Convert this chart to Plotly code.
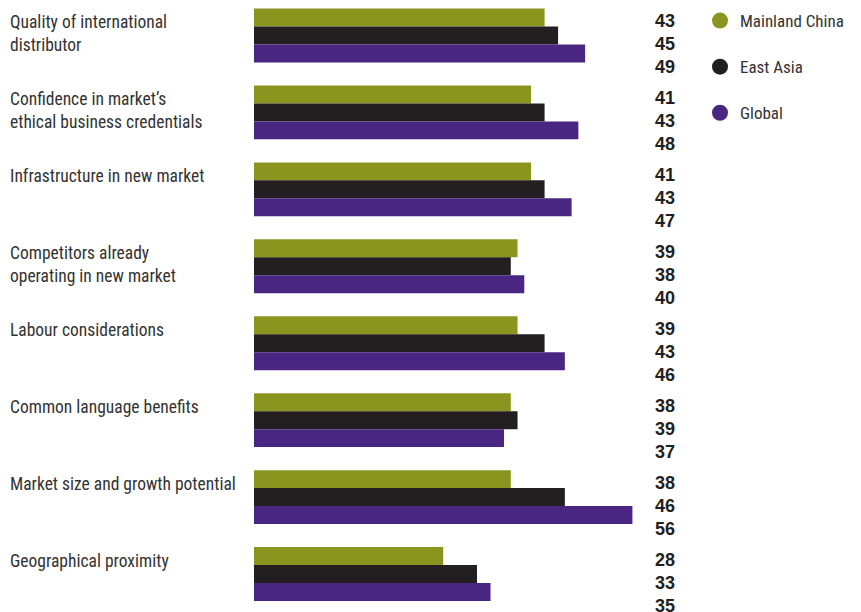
import plotly.graph_objects as go

categories = [
    "Quality of international<br>distributor",
    "Confidence in market’s<br>ethical business credentials",
    "Infrastructure in new market",
    "Competitors already<br>operating in new market",
    "Labour considerations",
    "Common language benefits",
    "Market size and growth potential",
    "Geographical proximity",
]
series_names = ["Mainland China", "East Asia", "Global"]
mainland_china = [43, 41, 41, 39, 39, 38, 38, 28]
east_asia = [45, 43, 43, 38, 43, 39, 46, 33]
global_vals = [49, 48, 47, 40, 46, 37, 56, 35]
series_values = [mainland_china, east_asia, global_vals]
colors = ["#8A951F", "#231F20", "#482682"]

W, H = 861, 612
ML, MR = 254, 161
PLOT_W = W - ML - MR
X_MAX = 66
TEXT = "#231F20"
LABEL_FONT = "Roboto Condensed, Liberation Sans Narrow, Arial Narrow, sans-serif"
NUM_FONT = "Liberation Sans, Arial, sans-serif"

ypos = list(range(len(categories)))

fig = go.Figure()
for name, vals, col in zip(series_names, series_values, colors):
    fig.add_trace(go.Bar(
        y=ypos, x=vals, orientation="h", name=name,
        marker=dict(color=col, line=dict(width=0)),
        showlegend=False, hoverinfo="x+name",
    ))

# circular legend markers
for i, (name, col) in enumerate(zip(series_names, colors)):
    fig.add_trace(go.Scatter(
        x=[None], y=[None], mode="markers", name=name,
        marker=dict(color=col, size=19, symbol="circle"),
        legendgroup=f"g{i}", showlegend=True,
    ))

annotations = []
# category labels, left-aligned at the left edge
for i, cat in enumerate(categories):
    annotations.append(dict(
        x=(8 - ML) / PLOT_W, xref="paper", y=i, yref="y",
        xanchor="left", yanchor="top", yshift=25, align="left",
        text=cat, showarrow=False,
        font=dict(family=LABEL_FONT, size=17.5, color="#333333"),
    ))
# value labels stacked to the right of each group
offsets = [-14.5, 9.0, 32.0]
for i in range(len(categories)):
    for k, vals in enumerate(series_values):
        annotations.append(dict(
            x=(677 - ML) / PLOT_W, xref="paper", y=i, yref="y",
            xanchor="right", yanchor="middle", yshift=-offsets[k],
            text=f"<b>{vals[i]}</b>", showarrow=False,
            font=dict(family=NUM_FONT, size=18, color=TEXT),
        ))

fig.update_layout(
    width=W, height=H,
    margin=dict(l=ML, r=MR, t=0, b=0, pad=0, autoexpand=False),
    paper_bgcolor="white", plot_bgcolor="white",
    barmode="group", bargap=0.30, bargroupgap=0.0,
    xaxis=dict(range=[0, X_MAX], visible=False, fixedrange=True),
    yaxis=dict(range=[7 + 38 / 77, -35.5 / 77], visible=False, fixedrange=True),
    annotations=annotations,
    legend=dict(
        x=(700 - ML) / PLOT_W, xref="paper", y=1 - 3 / H, yref="paper",
        xanchor="left", yanchor="top",
        font=dict(family=LABEL_FONT, size=17, color="#333333"),
        tracegroupgap=21, traceorder="grouped",
        itemwidth=30, bgcolor="rgba(0,0,0,0)",
    ),
)

fig.write_html("out.html")
